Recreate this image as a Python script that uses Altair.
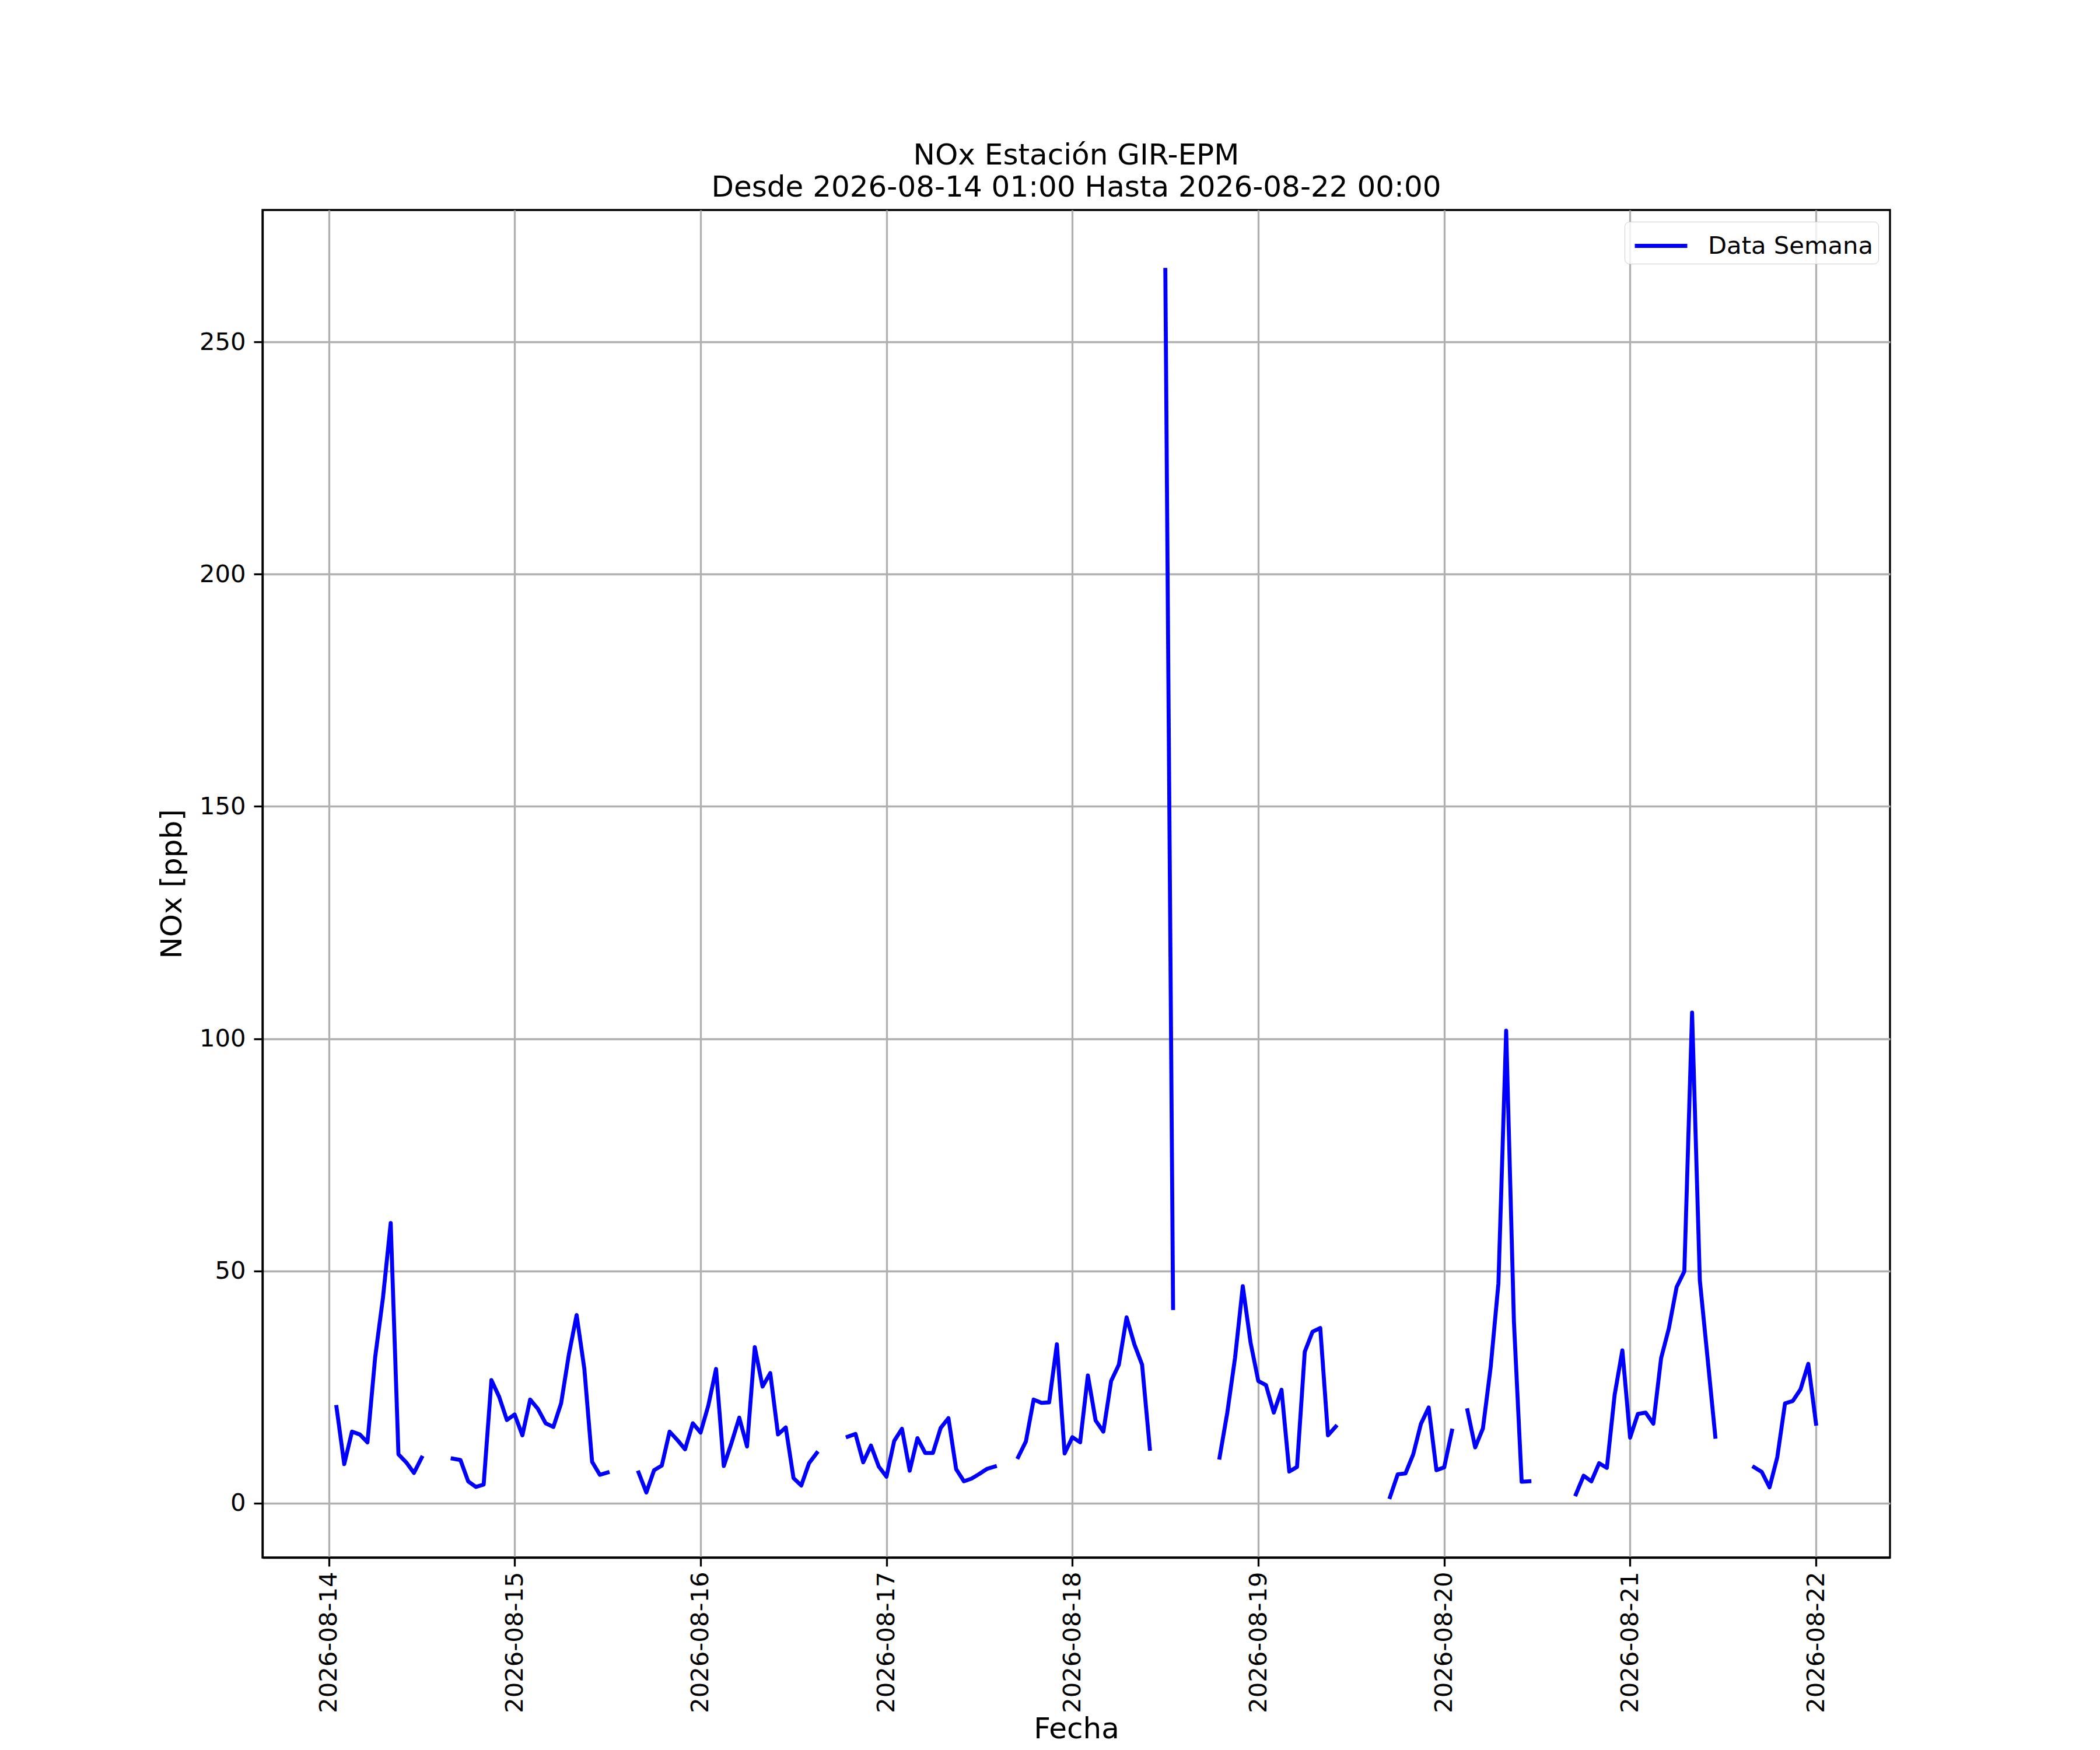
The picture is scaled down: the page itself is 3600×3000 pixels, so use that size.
import altair as alt
import pandas as pd
from datetime import datetime, timedelta

# Hourly NOx values [ppb]; each list = 24 hours starting at that day's 01:00
day_14 = [20.7, 8.4, 15.4, 14.8, 13.1, 31.5, 44.2, 60.3, 10.5, 8.8, 6.5, 9.8,
          None, None, None, 9.6, 9.3, 4.7, 3.5, 4.0, 26.5, 22.9, 17.9, 19.1]
day_15 = [14.6, 22.3, 20.3, 17.2, 16.4, 21.5, 32.0, 40.5, 28.9, 8.9, 6.1, 6.6,
          None, None, None, 6.6, 2.3, 7.1, 8.1, 15.4, 13.6, 11.6, 17.2, 15.2]
day_16 = [21.0, 28.9, 8.0, 13.0, 18.4, 12.2, 33.6, 25.1, 28.0, 14.8, 16.3, 5.4,
          3.8, 8.6, 10.8, None, None, None, 14.3, 14.9, 8.8, 12.4, 7.9, 5.7]
day_17 = [13.4, 16.0, 7.0, 14.0, 10.8, 10.8, 16.2, 18.3, 7.3, 4.7, 5.3, 6.3,
          7.4, 7.9, None, None, 9.9, 13.3, 22.3, 21.6, 21.7, 34.2, 10.7, 14.2]
day_18 = [13.1, 27.5, 17.8, 15.4, 26.3, 29.8, 40.0, 34.2, 29.8, 11.7, None, 265.5,
          42.0, None, None, None, None, None, 9.8, 19.5, 31.3, 46.7, 34.6, 26.3]
day_19 = [25.4, 19.5, 24.4, 6.8, 7.8, 32.6, 36.9, 37.7, 14.6, 16.5, None, None,
          None, None, None, None, 1.3, 6.2, 6.4, 10.5, 17.1, 20.6, 7.1, 7.7]
day_20 = [15.6, None, 20.0, 12.0, 16.1, 29.3, 47.3, 101.7, 39.1, 4.6, 4.7, None,
          None, None, None, None, 1.9, 5.9, 4.7, 8.6, 7.6, 23.3, 32.9, 14.1]
day_21 = [19.2, 19.5, 17.1, 31.2, 37.6, 46.5, 49.9, 105.6, 48.0, 31.2, 14.3, None,
          None, None, None, 7.75, 6.7, 3.4, 9.9, 21.5, 22.0, 24.5, 30.0, 17.1]

y_ticks = [0, 50, 100, 150, 200, 250]
x_tick_days = [14, 15, 16, 17, 18, 19, 20, 21, 22]

title_lines = ["NOx Estación GIR-EPM", "Desde 2026-08-14 01:00 Hasta 2026-08-22 00:00"]
series_name = "Data Semana"

values = day_14 + day_15 + day_16 + day_17 + day_18 + day_19 + day_20 + day_21
start = datetime(2026, 8, 14, 1, 0)

rows = []
seg = 0
prev_none = True
for i, v in enumerate(values):
    if v is None:
        prev_none = True
        continue
    if prev_none:
        seg += 1
        prev_none = False
    t = start + timedelta(hours=i)
    rows.append({"t": t.strftime("%Y-%m-%dT%H:%M:%SZ"), "v": v, "seg": seg,
                 "serie": series_name})
df = pd.DataFrame(rows)

FONT = "DejaVu Sans"
LW = 3.3

x_values = [alt.DateTime(year=2026, month=8, date=d, utc=True) for d in x_tick_days]
x_domain = [alt.DateTime(year=2026, month=8, date=13, hours=15, minutes=27, utc=True),
            alt.DateTime(year=2026, month=8, date=22, hours=9, minutes=33, utc=True)]

line = alt.Chart(df).mark_line(
    strokeWidth=6.8, strokeCap="square", strokeJoin="round"
).encode(
    x=alt.X("t:T",
            scale=alt.Scale(type="utc", domain=x_domain, nice=False),
            axis=alt.Axis(values=x_values,
                          labelExpr="utcFormat(datum.value, '%Y-%m-%d')",
                          labelAngle=270, labelAlign="right", labelBaseline="middle",
                          labelPadding=9, title="Fecha",
                          titleY=309, titleBaseline="alphabetic",
                          labelOverlap=False, labelFlush=False, labelLimit=0)),
    y=alt.Y("v:Q",
            scale=alt.Scale(domain=[-11.7, 278.4], nice=False, zero=False),
            axis=alt.Axis(values=y_ticks, title="NOx [ppb]", titlePadding=21,
                          labelPadding=14)),
    color=alt.Color("serie:N",
                    scale=alt.Scale(domain=[series_name], range=["#0000ff"]),
                    legend=alt.Legend(title=None, orient="none", legendX=2335, legendY=20,
                                      symbolType="M-1.5,0H1.5", symbolStrokeWidth=6.8,
                                      symbolSize=3600, symbolOffset=21, labelOffset=47,
                                      padding=8, fillColor="rgba(255,255,255,0.8)",
                                      strokeColor="#cccccc", cornerRadius=8,
                                      labelFontSize=41.7, labelFont=FONT,
                                      labelColor="black", labelLimit=0)),
    detail="seg:N",
)

chart = line.properties(
    width=2790,
    height=2310,
    title=alt.TitleParams(text=title_lines, fontSize=50, font=FONT, fontWeight="normal",
                          anchor="middle", color="black", offset=-37, lineHeight=55,
                          baseline="bottom"),
    autosize=alt.AutoSizeParams(type="none"),
    padding={"left": 442, "top": 352, "right": 352, "bottom": 322},
).configure(
    font=FONT,
).configure_view(
    stroke="black", strokeWidth=LW,
).configure_axis(
    labelFont=FONT, titleFont=FONT, labelFontSize=41.7, titleFontSize=50,
    labelColor="black", titleColor="black", titleFontWeight="normal",
    tickColor="black", tickWidth=LW, tickSize=15,
    domainColor="black", domainWidth=LW,
    grid=True, gridColor="#b0b0b0", gridWidth=LW, gridOpacity=1,
)

chart.save("out.html", embed_options={"renderer": "svg", "actions": False})
